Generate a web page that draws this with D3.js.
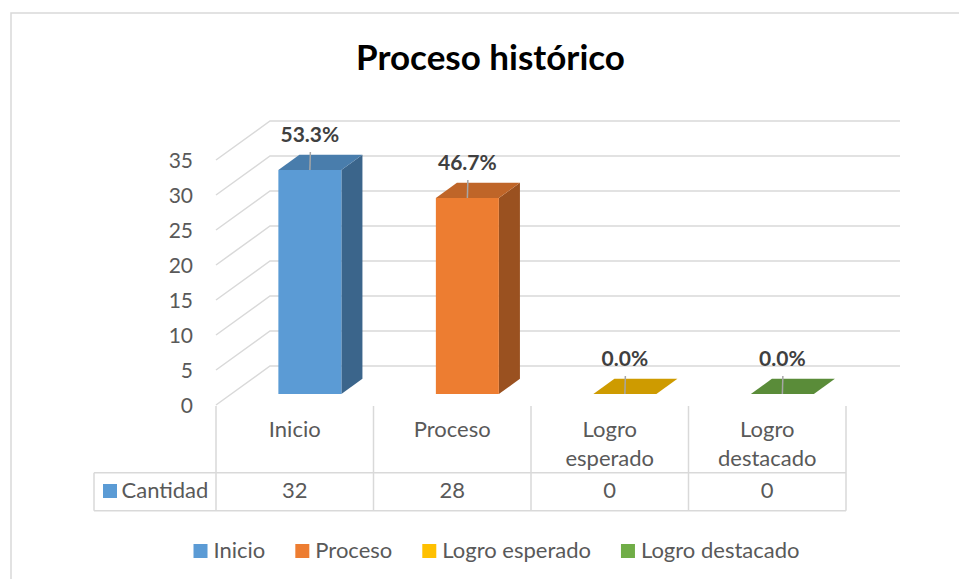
<!DOCTYPE html>
<html>
<head>
<meta charset="utf-8">
<script src="https://cdn.jsdelivr.net/npm/d3@7"></script>
<style>
  html, body { margin: 0; padding: 0; background: #ffffff; }
  svg { display: block; }
  text { font-family: Lato, "Open Sans", sans-serif; }
</style>
</head>
<body>
<svg id="chart" width="959" height="579"></svg>
<script>
// ---- data ----
const title = "Proceso histórico";
const categories = ["Inicio", "Proceso", "Logro esperado", "Logro destacado"];
const categoryLines = [["Inicio"], ["Proceso"], ["Logro", "esperado"], ["Logro", "destacado"]];
const values = [32, 28, 0, 0];
const seriesName = "Cantidad";
const yTicks = [0, 5, 10, 15, 20, 25, 30, 35];
const colors = ["#5B9BD5", "#ED7D31", "#FFC000", "#70AD47"];

// ---- layout ----
const svg = d3.select("#chart");
const W = 959, H = 579;
const textColor = "#595959";
const gridColor = "#D9D9D9";

const x = d3.scaleBand().domain(categories).range([216, 846]).padding(0);
const y = d3.scaleLinear().domain([0, 35]).range([405, 160]);
const depthX = 54, depthY = -39;
const P = (px, py, d) => [px + depthX * d, py + depthY * d];
const d0 = 0.28, d1 = 0.67;
const barFrac = 0.4;

// chart border
svg.append("rect")
  .attr("x", 11).attr("y", 13).attr("width", W + 20).attr("height", H + 20)
  .attr("fill", "none").attr("stroke", gridColor).attr("stroke-width", 1.5);

// title
svg.append("text")
  .attr("x", 490.5).attr("y", 70)
  .attr("text-anchor", "middle")
  .attr("font-size", 35).attr("font-weight", "bold").attr("fill", "#000")
  .text(title);

// gridlines (left wall diagonals + back wall)
const grid = svg.append("g").attr("stroke", gridColor).attr("stroke-width", 1.5).attr("fill", "none");
yTicks.forEach(v => {
  const yy = y(v);
  const a = P(x.range()[0], yy, 0), b = P(x.range()[0], yy, 1), c = P(x.range()[1], yy, 1);
  grid.append("path").attr("d", `M${a[0]},${a[1]}L${b[0]},${b[1]}L${c[0]},${c[1]}`);
});

// y axis labels
const yAxis = d3.axisLeft(y).tickValues(yTicks).tickSize(0).tickPadding(0).tickFormat(d3.format("d"));
const yg = svg.append("g").attr("transform", "translate(193,0)").call(yAxis);
yg.select(".domain").remove();
yg.selectAll("text")
  .attr("font-size", 21).attr("fill", textColor).attr("dy", "0.38em")
  .attr("font-family", "Lato, sans-serif");

// bars
const total = d3.sum(values);
const pct = d3.format(".1%");
const bars = svg.append("g");
categories.forEach((cat, i) => {
  const bw = x.bandwidth() * barFrac;
  const x0 = x(cat) + (x.bandwidth() - bw) / 2;
  const x1 = x0 + bw;
  const yTop = y(values[i]);
  const yBase = y(0);
  const base = d3.color(colors[i]);
  const poly = pts => "M" + pts.map(p => p.join(",")).join("L") + "Z";
  if (values[i] > 0) {
    bars.append("path")
      .attr("d", poly([P(x1, yTop, d0), P(x1, yTop, d1), P(x1, yBase, d1), P(x1, yBase, d0)]))
      .attr("fill", base.darker(1.2).formatHex());
    bars.append("path")
      .attr("d", poly([P(x0, yTop, d0), P(x1, yTop, d0), P(x1, yBase, d0), P(x0, yBase, d0)]))
      .attr("fill", base.formatHex());
  }
  bars.append("path")
    .attr("d", poly([P(x0, yTop, d0), P(x1, yTop, d0), P(x1, yTop, d1), P(x0, yTop, d1)]))
    .attr("fill", base.darker(0.6).formatHex());

  // leader line and label
  const fc = P((x0 + x1) / 2, yTop, d0);
  bars.append("line")
    .attr("x1", fc[0]).attr("x2", fc[0] + 0.5)
    .attr("y1", fc[1]).attr("y2", fc[1] - 18)
    .attr("stroke", "#A6A6A6").attr("stroke-width", 1.5);
  bars.append("text")
    .attr("x", fc[0]).attr("y", fc[1] - 28)
    .attr("text-anchor", "middle")
    .attr("font-size", 21).attr("font-weight", "bold").attr("fill", "#404040")
    .text(pct(values[i] / total));
});

// data table
const tbl = svg.append("g").attr("stroke", gridColor).attr("stroke-width", 1.5).attr("fill", "none");
const tTop = 406, tMid = 472.7, tBot = 510.7, tLeft = 94;
const edges = categories.map(c => x(c)).concat([x.range()[1]]);
edges.forEach(ex => tbl.append("line").attr("x1", ex).attr("x2", ex).attr("y1", tTop).attr("y2", tBot));
tbl.append("line").attr("x1", tLeft).attr("x2", x.range()[1]).attr("y1", tMid).attr("y2", tMid);
tbl.append("line").attr("x1", tLeft).attr("x2", x.range()[1]).attr("y1", tBot).attr("y2", tBot);
tbl.append("line").attr("x1", tLeft).attr("x2", tLeft).attr("y1", tMid).attr("y2", tBot);

categories.forEach((cat, i) => {
  const cx = x(cat) + x.bandwidth() / 2;
  categoryLines[i].forEach((ln, j) => {
    svg.append("text")
      .attr("x", cx).attr("y", 437 + j * 29)
      .attr("text-anchor", "middle")
      .attr("font-size", 22).attr("fill", textColor)
      .text(ln);
  });
  svg.append("text")
    .attr("x", cx).attr("y", 498)
    .attr("text-anchor", "middle")
    .attr("font-size", 22).attr("fill", textColor)
    .text(values[i]);
});
svg.append("rect").attr("x", 103).attr("y", 484).attr("width", 14).attr("height", 14).attr("fill", colors[0]);
svg.append("text").attr("x", 121.5).attr("y", 498)
  .attr("font-size", 22).attr("fill", textColor).text(seriesName);

// legend
const lg = svg.append("g");
let lx = 0;
categories.forEach((cat, i) => {
  const g = lg.append("g").attr("transform", `translate(${lx},0)`);
  g.append("rect").attr("x", 0).attr("y", 544).attr("width", 14).attr("height", 14).attr("fill", colors[i]);
  const t = g.append("text").attr("x", 20).attr("y", 558)
    .attr("font-size", 22).attr("fill", textColor).text(cat);
  const w = t.node().getComputedTextLength();
  lx += 20 + w + 30;
});
const legendW = lx - 30;
lg.attr("transform", `translate(${496.5 - legendW / 2},0)`);
</script>
</body>
</html>
